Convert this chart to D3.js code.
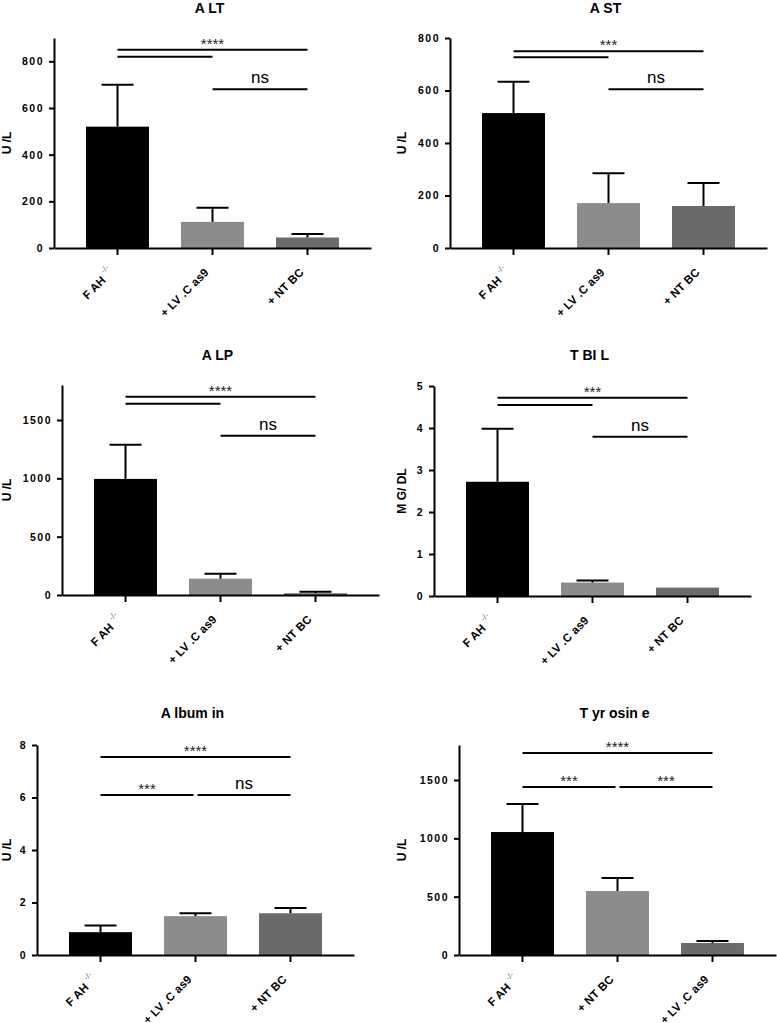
<!DOCTYPE html>
<html><head><meta charset="utf-8">
<script src="https://cdn.jsdelivr.net/npm/d3@7"></script>
<style>
html,body{margin:0;padding:0;background:#fff;}
svg{display:block;font-family:"Liberation Sans",Arial,sans-serif;}
</style></head><body>
<svg id="chart" width="777" height="1023"></svg>
<script>
// ---------- data ----------
const catsStd = ["F AH", "+ LV .C as9", "+ NT BC"];
const catsTyr = ["F AH", "+ NT BC", "+ LV .C as9"];

const titles = ["A LT", "A ST", "A LP", "T BI L", "A lbum in", "T yr osin e"];
const yLabels = ["U /L", "U /L", "U /L", "M G/ DL", "U /L", "U /L"];

const altMean = [520, 112, 45];   const altErr = [180, 60, 15];
const astMean = [514, 171, 160];  const astErr = [119, 114, 88];
const alpMean = [995, 140, 15];   const alpErr = [292, 42, 13];
const tbilMean = [2.72, 0.32, 0.20]; const tbilErr = [1.26, 0.05, 0.0];
const albMean = [0.87, 1.48, 1.59];  const albErr = [0.25, 0.11, 0.20];
const tyrMean = [1054, 548, 103];    const tyrErr = [240, 112, 17];

const altTicks = [0, 200, 400, 600, 800];
const astTicks = [0, 200, 400, 600, 800];
const alpTicks = [0, 500, 1000, 1500];
const tbilTicks = [0, 1, 2, 3, 4, 5];
const albTicks = [0, 2, 4, 6, 8];
const tyrTicks = [0, 500, 1000, 1500];

const yMaxes = [900, 800, 1800, 5, 8, 1800];

// significance: [fromIndex, toIndex, y (data units), label]
const altSig = [[0, 2, 850, "****"], [0, 1, 820, ""], [1, 2, 680, "ns"]];
const astSig = [[0, 2, 750, "***"], [0, 1, 727, ""], [1, 2, 605, "ns"]];
const alpSig = [[0, 2, 1700, "****"], [0, 1, 1640, ""], [1, 2, 1365, "ns"]];
const tbilSig = [[0, 2, 4.72, "***"], [0, 1, 4.55, ""], [1, 2, 3.79, "ns"]];
const albSig = [[0, 2, 7.54, "****"], [0, 1, 6.1, "***"], [1, 2, 6.1, "ns"]];
const tyrSig = [[0, 2, 1731, "****"], [0, 1, 1440, "***"], [1, 2, 1440, "***"]];

const barColors = ["#000000", "#8c8c8c", "#6b6b6b"];

// ---------- layout ----------
const panels = [
  {cats: catsStd, mean: altMean, err: altErr, ticks: altTicks, sig: altSig, x0: 54,  y0: 248, titleY: 13,  labX: 11},
  {cats: catsStd, mean: astMean, err: astErr, ticks: astTicks, sig: astSig, x0: 450, y0: 248, titleY: 13,  labX: 406},
  {cats: catsStd, mean: alpMean, err: alpErr, ticks: alpTicks, sig: alpSig, x0: 62,  y0: 595, titleY: 360, labX: 11},
  {cats: catsStd, mean: tbilMean, err: tbilErr, ticks: tbilTicks, sig: tbilSig, x0: 434, y0: 596, titleY: 360, labX: 406},
  {cats: catsStd, mean: albMean, err: albErr, ticks: albTicks, sig: albSig, x0: 37,  y0: 955, titleY: 718, labX: 11},
  {cats: catsTyr, mean: tyrMean, err: tyrErr, ticks: tyrTicks, sig: tyrSig, x0: 459, y0: 955, titleY: 718, labX: 406}
];

const svg = d3.select("#chart");
svg.append("rect").attr("width", 777).attr("height", 1023).attr("fill", "#fff");

const plotH = 210, plotW = 317;

panels.forEach((p, i) => {
  const g = svg.append("g");
  const x = d3.scaleBand().domain(p.cats).range([p.x0, p.x0 + plotW]).padding(0.337);
  const y = d3.scaleLinear().domain([0, yMaxes[i]]).range([p.y0, p.y0 - plotH]);
  const data = p.cats.map((c, k) => ({c, v: p.mean[k], e: p.err[k], k}));

  // bars
  g.selectAll("rect.bar").data(data).join("rect")
    .attr("class", "bar")
    .attr("x", d => x(d.c)).attr("width", x.bandwidth())
    .attr("y", d => y(d.v)).attr("height", d => y(0) - y(d.v))
    .attr("fill", d => barColors[d.k]);

  // error bars (upper)
  const eb = g.selectAll("g.err").data(data.filter(d => d.e > 0)).join("g").attr("class", "err");
  eb.append("line")
    .attr("x1", d => x(d.c) + x.bandwidth() / 2).attr("x2", d => x(d.c) + x.bandwidth() / 2)
    .attr("y1", d => y(d.v)).attr("y2", d => y(d.v + d.e))
    .attr("stroke", "#000").attr("stroke-width", 2);
  eb.append("line")
    .attr("x1", d => x(d.c) + x.bandwidth() / 2 - 16).attr("x2", d => x(d.c) + x.bandwidth() / 2 + 16)
    .attr("y1", d => y(d.v + d.e)).attr("y2", d => y(d.v + d.e))
    .attr("stroke", "#000").attr("stroke-width", 2);

  // y axis
  const yAx = g.append("g").attr("transform", `translate(${p.x0},0)`)
    .call(d3.axisLeft(y).tickValues(p.ticks).tickFormat(d3.format("d")).tickSize(5).tickPadding(5).tickSizeOuter(0));
  yAx.select(".domain").attr("stroke-width", 2);
  yAx.selectAll(".tick line").attr("stroke-width", 2);
  yAx.selectAll(".tick text").attr("font-size", 10.5).attr("font-weight", "bold")
    .attr("font-family", "Liberation Sans, Arial, sans-serif").attr("letter-spacing", "1.5px").attr("fill", "#000");

  // x axis
  const xAx = g.append("g").attr("transform", `translate(0,${p.y0})`)
    .call(d3.axisBottom(x).tickSize(7).tickSizeOuter(0).tickFormat(""));
  xAx.select(".domain").attr("stroke-width", 2);
  xAx.selectAll(".tick line").attr("stroke-width", 2);

  // x labels
  p.cats.forEach(c => {
    const cx = x(c) + x.bandwidth() / 2;
    const t = g.append("text")
      .attr("transform", `translate(${cx - 3},${p.y0 + 25}) rotate(-45)`)
      .attr("text-anchor", "end").attr("font-size", 11.5).attr("font-weight", "bold")
      .attr("letter-spacing", "0.2px");
    t.append("tspan").text(c);
    if (c === "F AH") {
      t.append("tspan").attr("dy", -7).attr("dx", 3).attr("font-size", 8)
        .attr("font-weight", "normal").attr("fill", "#666").text("-/-");
    }
  });

  // title
  const midX = x(p.cats[1]) + x.bandwidth() / 2 - 3;
  g.append("text").attr("x", midX).attr("y", p.titleY)
    .attr("text-anchor", "middle").attr("font-size", 14).attr("font-weight", "bold").text(titles[i]);

  // y label
  g.append("text").attr("transform", `translate(${p.labX},${p.y0 - plotH / 2}) rotate(-90)`)
    .attr("text-anchor", "middle").attr("font-size", 12).attr("font-weight", "bold").text(yLabels[i]);

  // significance
  p.sig.forEach(s => {
    const [a, b, yv, lab] = s;
    let xa = x(p.cats[a]) + x.bandwidth() / 2, xb = x(p.cats[b]) + x.bandwidth() / 2;
    // inset where two brackets meet on the same level
    p.sig.forEach(o => {
      if (o === s || o[2] !== yv) return;
      if (o[0] === b) xb -= 2;
      if (o[1] === a) xa += 2;
    });
    const ly = y(yv);
    g.append("line").attr("x1", xa).attr("x2", xb).attr("y1", ly).attr("y2", ly)
      .attr("stroke", "#000").attr("stroke-width", 2);
    if (lab === "ns") {
      g.append("text").attr("x", (xa + xb) / 2).attr("y", ly - 6).attr("text-anchor", "middle")
        .attr("font-size", 17).text(lab);
    } else if (lab) {
      g.append("text").attr("x", (xa + xb) / 2).attr("y", ly - 1).attr("text-anchor", "middle")
        .attr("font-size", 15).attr("fill", "#222").text(lab);
    }
  });
});
</script>
</body></html>
